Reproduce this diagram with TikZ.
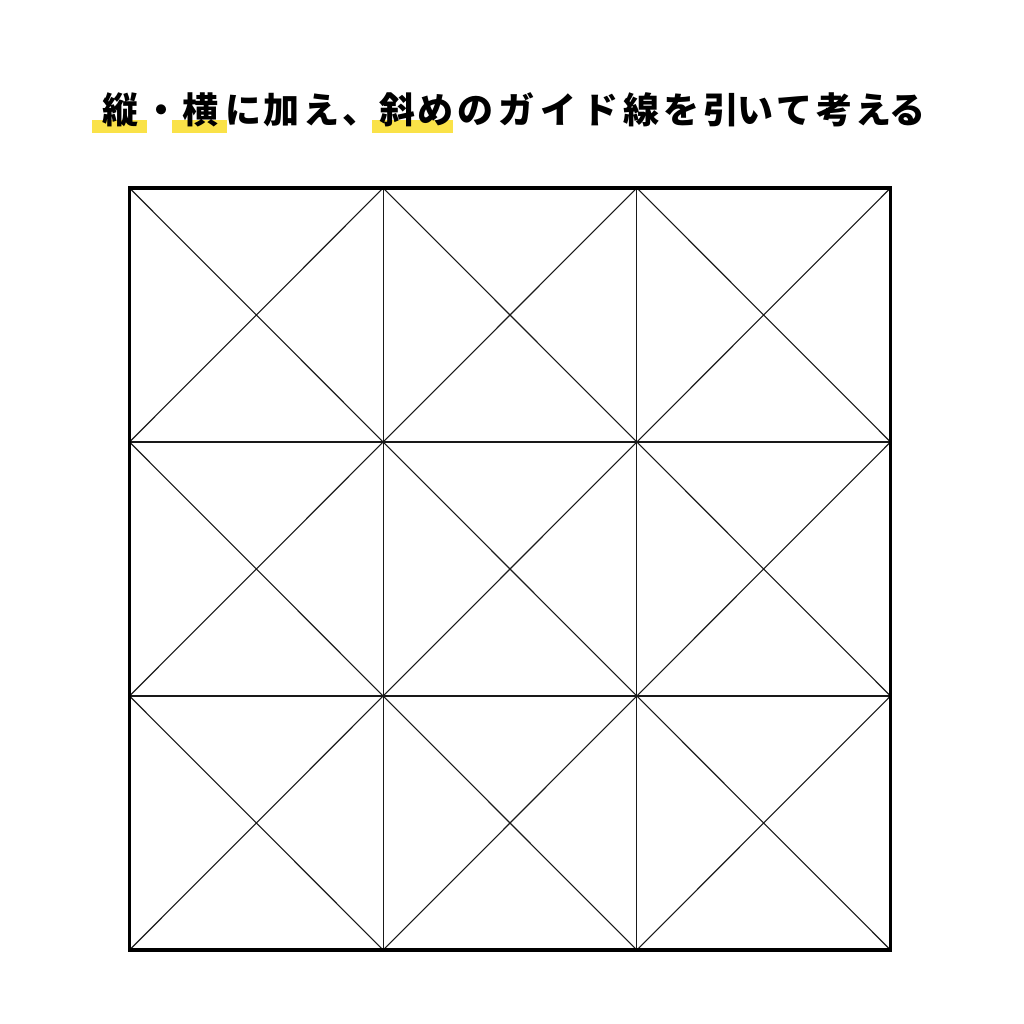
\documentclass[tikz,border=0pt]{standalone}
\usepackage{fontspec}
\newfontfamily\cjk{Noto Sans CJK JP}
\definecolor{hl}{RGB}{250,226,72}
\begin{document}
\begin{tikzpicture}[x=1pt,y=-1pt,
  thin grid/.style={line width=1.1pt,black!90},
  frame/.style={line width=3.6pt,black},
  ch/.style={anchor=base,inner sep=0pt,font=\cjk\bfseries\fontsize{36}{36}\selectfont}]
\useasboundingbox (0,0) rectangle (1024,1024);
% highlights
\fill[hl] (92,120) rectangle (147,133);
\fill[hl] (172,120) rectangle (227,133);
\fill[hl] (372,120) rectangle (453,133);
% title characters
\foreach \c/\x [count=\i] in {縦/120,・/161,横/200,に/243,加/281,え/321,、/360,斜/397,め/435,の/475,ガ/516,イ/558,ド/600,線/641,を/681,引/721,い/755,て/794,考/834,え/873,る/907}
  \node[ch] (t\i) at (\x,124) {\c};
% grid
\coordinate (A) at (129.5,188);
\coordinate (B) at (890.5,950);
\foreach \i in {0,1,2} \foreach \j in {0,1,2} {
  \pgfmathsetmacro\xa{129.5+\i*253.667}
  \pgfmathsetmacro\xb{129.5+(\i+1)*253.667}
  \pgfmathsetmacro\ya{188+\j*254}
  \pgfmathsetmacro\yb{188+(\j+1)*254}
  \draw[thin grid] (\xa,\ya) -- (\xb,\yb) (\xa,\yb) -- (\xb,\ya);
}
\foreach \i in {1,2} {
  \pgfmathsetmacro\xx{129.5+\i*253.667}
  \pgfmathsetmacro\yy{188+\i*254}
  \draw[thin grid] (\xx,188) -- (\xx,950);
  \draw[thin grid] (129.5,\yy) -- (890.5,\yy);
}
\draw[frame] (A) rectangle (B);
\end{tikzpicture}
\end{document}
